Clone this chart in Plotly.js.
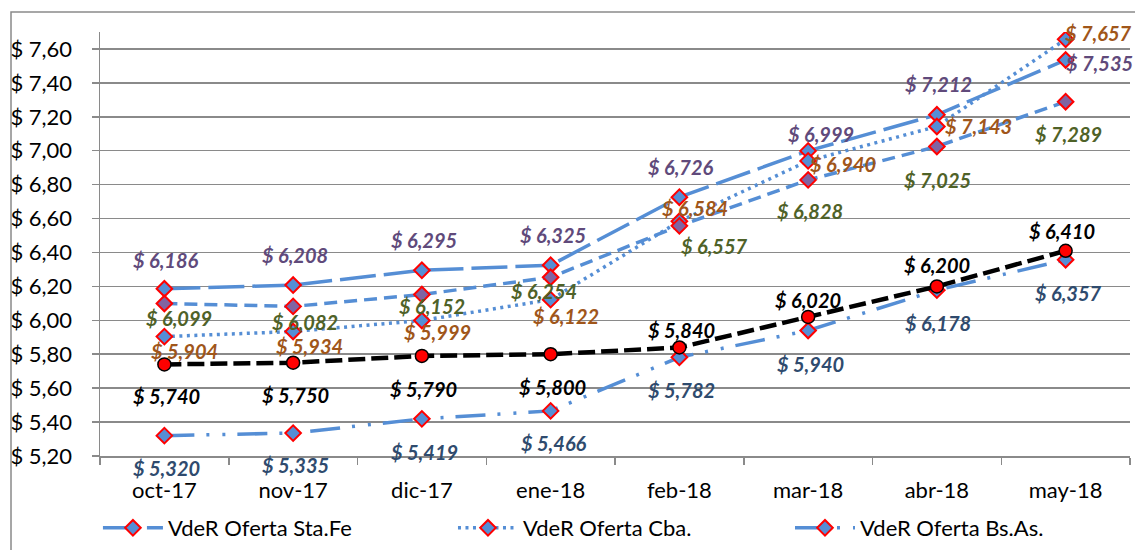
<!DOCTYPE html>
<html><head><meta charset="utf-8">
<script src="https://cdn.plot.ly/plotly-3.0.1.min.js"></script>
<style>html,body{margin:0;padding:0;background:#fff}#chart{width:1135px;height:550px}</style>
</head><body><div id="chart"></div>
<script>
// ---- data ----
const categories = ['oct-17','nov-17','dic-17','ene-18','feb-18','mar-18','abr-18','may-18'];
const staFe  = [6.186, 6.208, 6.295, 6.325, 6.726, 6.999, 7.212, 7.535];
const cba    = [5.904, 5.934, 5.999, 6.122, 6.584, 6.940, 7.143, 7.657];
const bsAs   = [5.320, 5.335, 5.419, 5.466, 5.782, 5.940, 6.178, 6.357];
const serie4 = [6.099, 6.082, 6.152, 6.254, 6.557, 6.828, 7.025, 7.289];
const serie5 = [5.740, 5.750, 5.790, 5.800, 5.840, 6.020, 6.200, 6.410];
const seriesNames = ['VdeR Oferta Sta.Fe', 'VdeR Oferta Cba.', 'VdeR Oferta Bs.As.', 'Serie 4', 'Serie 5'];
const yTickValues = [5.2, 5.4, 5.6, 5.8, 6.0, 6.2, 6.4, 6.6, 6.8, 7.0, 7.2, 7.4, 7.6];
const yTickLabels = ['$ 5,20','$ 5,40','$ 5,60','$ 5,80','$ 6,00','$ 6,20','$ 6,40','$ 6,60','$ 6,80','$ 7,00','$ 7,20','$ 7,40','$ 7,60'];

// ---- styles ----
const FONT = 'Lato, "Liberation Sans", sans-serif';
const BLUE = '#558ED5';
const GRID = '#8A8A8A';
// label offsets in screen px [dx, dy(down)]
const offStaFe = [[2,-29],[2,-30],[2,-30],[2,-30],[2,-30],[13,-17],[2,-31],[34,3]];
const offCba   = [[20,14],[16,14],[16,12],[15,16],[16,-13],[35,3],[42,0],[33,-6]];
const offBsAs  = [[2,32],[2,32],[3,33],[3,32],[2,33],[2,33],[1,33],[3,33]];
const off4     = [[15,14],[12,16],[10,11],[-7,14],[35,20],[2,31],[1,34],[3,32]];
const off5     = [[2,32],[2,32],[2,33],[2,33],[2,-17],[0,-17],[0,-21],[-4,-20]];

const diamond = (fill) => ({symbol:'diamond', size:12, color:fill, line:{color:'#FF0000', width:2}});

const traces = [
  {x:categories, y:staFe, name:seriesNames[0], mode:'lines+markers', legend:'legend',
   line:{color:BLUE, width:3.5, dash:'36px,8px'}, marker:diamond(BLUE)},
  {x:categories, y:cba, name:seriesNames[1], mode:'lines+markers', legend:'legend2',
   line:{color:BLUE, width:3.5, dash:'3px,4.5px'}, marker:diamond(BLUE)},
  {x:categories, y:bsAs, name:seriesNames[2], mode:'lines+markers', legend:'legend3',
   line:{color:BLUE, width:3.5, dash:'30px,12px,3px,13px,3px,12px'}, marker:diamond(BLUE)},
  {x:categories, y:serie4, name:seriesNames[3], mode:'lines+markers', showlegend:false,
   line:{color:BLUE, width:3.5, dash:'13px,7px'}, marker:diamond('#8064A2')},
  {x:categories, y:serie5, name:seriesNames[4], mode:'lines+markers', showlegend:false,
   line:{color:'#000000', width:4.5, dash:'17px,6px'},
   marker:{symbol:'circle', size:13, color:'#FF0000', line:{color:'#000000', width:1.5}}}
];

const fmt = v => '$ ' + v.toFixed(3).replace('.', ',');
const annotations = [];
function addLabels(vals, offs, color){
  vals.forEach((v,i)=>{
    annotations.push({x:categories[i], y:v, xref:'x', yref:'y', text:fmt(v), showarrow:false,
      xshift:offs[i][0], yshift:-offs[i][1],
      font:{family:FONT, size:20, color:color, weight:'bold', style:'italic'}});
  });
}
addLabels(staFe, offStaFe, '#604A7B');
addLabels(cba, offCba, '#A0561A');
addLabels(bsAs, offBsAs, '#2F4B6E');
addLabels(serie4, off4, '#4F6228');
addLabels(serie5, off5, '#000000');

const tickFont = {family:FONT, size:22, color:'#000', weight:'normal'};
const legendBase = (x) => ({orientation:'h', x:x, xanchor:'left', xref:'paper', yref:'container', y:0.04, yanchor:'middle',
    font:{family:FONT, size:22, color:'#000000', weight:'normal'}, itemwidth:60, bgcolor:'rgba(0,0,0,0)'});
const layout = {
  width:1135, height:550,
  margin:{l:100, r:5, t:32, b:94, pad:0},
  paper_bgcolor:'#ffffff', plot_bgcolor:'#ffffff',
  font:{family:FONT, size:22, color:'#000000', weight:'normal'},
  showlegend:true,
  legend:legendBase(-0.002),
  legend2:legendBase(0.3427),
  legend3:legendBase(0.6699),
  xaxis:{type:'category', range:[-0.5, 7.5], showgrid:false, zeroline:false,
    showline:true, linecolor:GRID, linewidth:1.5,
    ticks:'outside', tickson:'boundaries', ticklen:7, tickcolor:GRID, tickwidth:1.5,
    ticklabelstandoff:14, tickfont:tickFont, fixedrange:true},
  yaxis:{range:[5.2, 7.7], tickmode:'array', tickvals:yTickValues, ticktext:yTickLabels,
    showgrid:true, gridcolor:GRID, gridwidth:1.5, zeroline:false,
    showline:true, linecolor:GRID, linewidth:1.5,
    ticks:'outside', ticklen:7, tickcolor:GRID, tickwidth:1.5,
    ticklabelstandoff:15, tickfont:tickFont, fixedrange:true},
  annotations:annotations,
  shapes:[{type:'rect', xref:'paper', yref:'paper', x0:-0.0864, x1:1.012, y0:-0.26, y1:1.0472,
    line:{color:GRID, width:1.5}, fillcolor:'rgba(0,0,0,0)', layer:'below'}]
};

Plotly.newPlot('chart', traces, layout, {displayModeBar:false, staticPlot:true});
</script>
</body></html>
